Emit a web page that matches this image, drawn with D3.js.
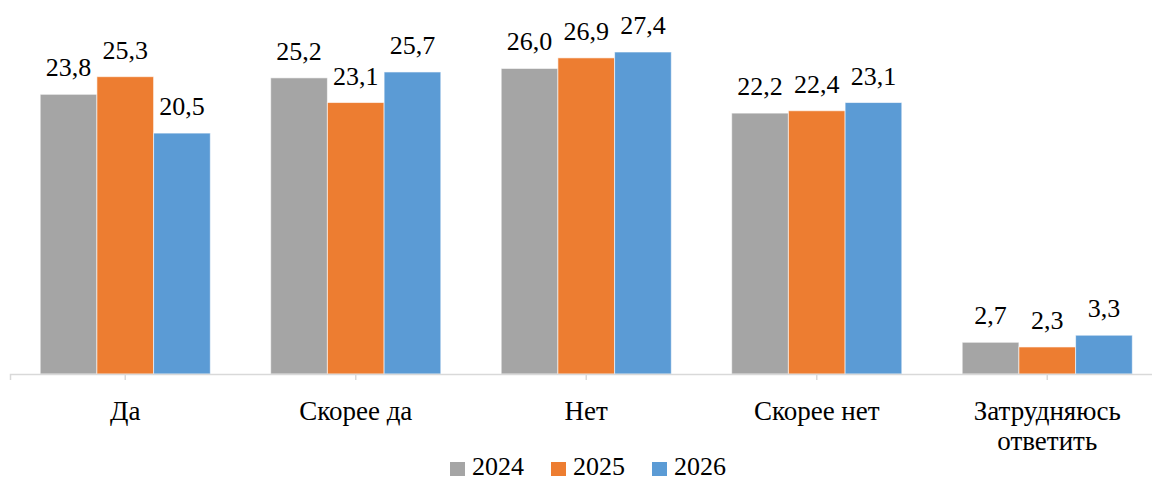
<!DOCTYPE html>
<meta charset="utf-8">
<style>
  body { margin: 0; background: #fff; }
  svg text { font-family: "Liberation Serif", "Times New Roman", "Liberation Sans", Arial, sans-serif; fill: #000; }
</style>
<div id="chart"></div>
<script src="https://cdn.jsdelivr.net/npm/d3@7/dist/d3.min.js"></script>
<script>

var categories = ["Да", "Скорее да", "Нет", "Скорее нет", "Затрудняюсь ответить"];
var years = ["2024", "2025", "2026"];
var v2024 = [23.8, 25.2, 26.0, 22.2, 2.7];
var v2025 = [25.3, 23.1, 26.9, 22.4, 2.3];
var v2026 = [20.5, 25.7, 27.4, 23.1, 3.3];
var colors = ["#a5a5a5", "#ed7d31", "#5b9bd5"];

var width = 1152, height = 481,
    baseY = 374;

var series = [v2024, v2025, v2026];
var rows = categories.map(function(c, i) {
  return { cat: c, vals: years.map(function(y, j) { return { year: y, v: series[j][i] }; }) };
});

var svg = d3.select("#chart")
  .append("svg")
    .attr("width", width)
    .attr("height", height);

var x = d3.scaleBand()
  .domain(categories)
  .range([10, 1162.5])
  .paddingInner(0.262)
  .paddingOuter(0.131);

var x1 = d3.scaleBand()
  .domain(years)
  .range([0, x.bandwidth()]);

var y = d3.scaleLinear()
  .domain([0, 27.4])
  .range([baseY, 52]);

var color = d3.scaleOrdinal().domain(years).range(colors);

// groups
var g = svg.selectAll(".grp")
  .data(rows)
  .enter().append("g")
    .attr("transform", function(d) { return "translate(" + x(d.cat) + ",0)"; });

g.selectAll("rect")
  .data(function(d) { return d.vals; })
  .enter().append("rect")
    .attr("x", function(d) { return x1(d.year); })
    .attr("width", x1.bandwidth())
    .attr("y", function(d) { return y(d.v); })
    .attr("height", function(d) { return baseY - y(d.v); })
    .attr("fill", function(d) { return color(d.year); })
    .attr("stroke", "#fff")
    .attr("stroke-opacity", 0.6)
    .attr("stroke-width", 1);

g.selectAll(".lbl")
  .data(function(d) { return d.vals; })
  .enter().append("text")
    .attr("x", function(d) { return x1(d.year) + x1.bandwidth() / 2; })
    .attr("y", function(d) { return y(d.v) - 18; })
    .attr("text-anchor", "middle")
    .style("font-size", "26px")
    .text(function(d) { return d.v.toFixed(1).replace(".", ","); });

// x axis
var axis = svg.append("g")
  .attr("transform", "translate(0," + baseY + ")")
  .call(d3.axisBottom(x).tickSizeOuter(0).tickSize(6));

axis.attr("font-family", null);
axis.select(".domain").attr("stroke", "#d9d9d9").attr("stroke-width", 1.5);
axis.selectAll(".tick line").attr("stroke", "#d9d9d9").attr("stroke-width", 1.5);

axis.selectAll(".tick text").each(function(d) {
  var t = d3.select(this);
  var words = d == "Затрудняюсь ответить" ? ["Затрудняюсь", "ответить"] : [d];
  t.text(null)
    .attr("y", 0).attr("dy", null)
    .style("font-size", "27px");
  words.forEach(function(w, i) {
    t.append("tspan").attr("x", 0).attr("y", 46 + i * 30).text(w);
  });
});

// legend
var legend = svg.append("g").attr("transform", "translate(0,475)");
years.forEach(function(yr, i) {
  var lx = 450 + i * 101;
  legend.append("rect")
    .attr("x", lx).attr("y", -13)
    .attr("width", 15).attr("height", 14)
    .attr("fill", colors[i]);
  legend.append("text")
    .attr("x", lx + 22).attr("y", 0)
    .style("font-size", "26px")
    .text(yr);
});

</script>
